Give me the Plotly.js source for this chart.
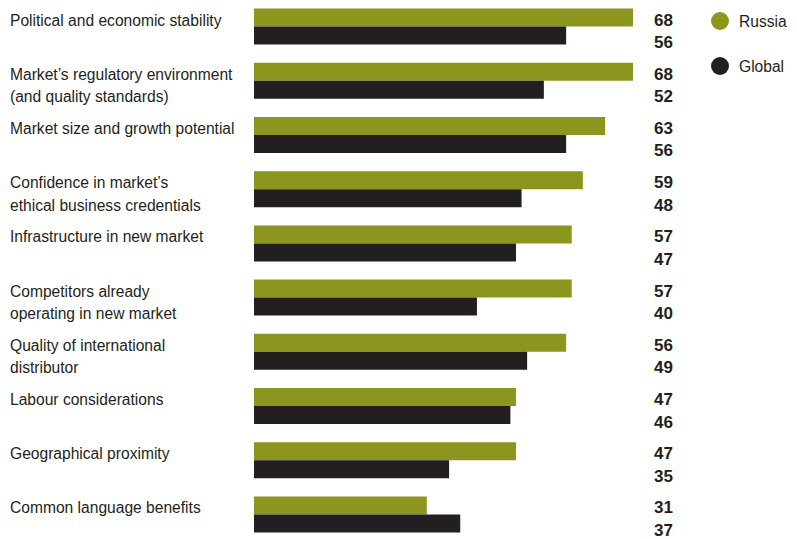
<!DOCTYPE html>
<html>
<head>
<meta charset="utf-8">
<script src="https://cdn.plot.ly/plotly-3.0.1.min.js"></script>
<style>html,body{margin:0;padding:0;background:#fff;} #chart{width:797px;height:539px;}</style>
</head>
<body>
<div id="chart"></div>
<script>
var categories = [
  "Political and economic stability",
  "Market’s regulatory environment<br>(and quality standards)",
  "Market size and growth potential",
  "Confidence in market’s<br>ethical business credentials",
  "Infrastructure in new market",
  "Competitors already<br>operating in new market",
  "Quality of international<br>distributor",
  "Labour considerations",
  "Geographical proximity",
  "Common language benefits"
];
var russia = [68, 68, 63, 59, 57, 57, 56, 47, 47, 31];
var globalVals = [56, 52, 56, 48, 47, 40, 49, 46, 35, 37];
var seriesNames = ["Russia", "Global"];

var OLIVE = "#8c961f";
var DARK = "#231f20";
var LABEL_FONT = "'Liberation Sans', Arial, sans-serif";
var NUM_FONT = "'Liberation Sans', Arial, sans-serif";

var traces = [
  {type: "bar", orientation: "h", name: seriesNames[0], y: categories, x: russia,
   marker: {color: OLIVE}, hoverinfo: "x"},
  {type: "bar", orientation: "h", name: seriesNames[1], y: categories, x: globalVals,
   marker: {color: DARK}, hoverinfo: "x"}
];

var annotations = [];
categories.forEach(function (c, i) {
  var lines = c.split("<br>");
  lines.forEach(function (ln, j) {
    annotations.push({
      xref: "paper", x: (8 - 254) / 543, xanchor: "left", yref: "y", y: c,
      yanchor: "middle", yshift: j === 0 ? 6.5 : -16, text: ln, showarrow: false,
      align: "left", font: {family: LABEL_FONT, size: 15.6, color: DARK}
    });
  });
  annotations.push({
    xref: "x", x: 71.4, xanchor: "left", yref: "y", y: c, yanchor: "middle",
    yshift: 6.5, text: "<b>" + russia[i] + "</b>", showarrow: false,
    font: {family: NUM_FONT, size: 17, color: DARK}
  });
  annotations.push({
    xref: "x", x: 71.4, xanchor: "left", yref: "y", y: c, yanchor: "middle",
    yshift: -16, text: "<b>" + globalVals[i] + "</b>", showarrow: false,
    font: {family: NUM_FONT, size: 17, color: DARK}
  });
});

var legendColors = [OLIVE, DARK];
var legendY = [21, 66];
var shapes = [];
seriesNames.forEach(function (n, k) {
  var cx = (720 - 254) / 543, cy = 1 - legendY[k] / 539;
  shapes.push({type: "circle", xref: "paper", yref: "paper",
    x0: cx - 9 / 543, x1: cx + 9 / 543, y0: cy - 9 / 539, y1: cy + 9 / 539,
    fillcolor: legendColors[k], line: {width: 0}});
  annotations.push({xref: "paper", yref: "paper", x: (737 - 254) / 543, y: cy,
    xanchor: "left", yanchor: "middle", text: n, showarrow: false,
    font: {family: LABEL_FONT, size: 15.6, color: DARK}});
});

var layout = {
  width: 797, height: 539,
  margin: {l: 254, r: 0, t: 0, b: 0, pad: 0},
  paper_bgcolor: "#fff", plot_bgcolor: "#fff",
  barmode: "group", bargap: 0.336, bargroupgap: 0,
  showlegend: false,
  xaxis: {range: [0, 543 / 5.574], showgrid: false, zeroline: false, showticklabels: false, showline: false, fixedrange: true},
  yaxis: {type: "category", range: [9.452, -0.489], showgrid: false, zeroline: false, showticklabels: false, showline: false, fixedrange: true},
  annotations: annotations,
  shapes: shapes
};

Plotly.newPlot("chart", traces, layout, {displayModeBar: false, staticPlot: true});
</script>
</body>
</html>
